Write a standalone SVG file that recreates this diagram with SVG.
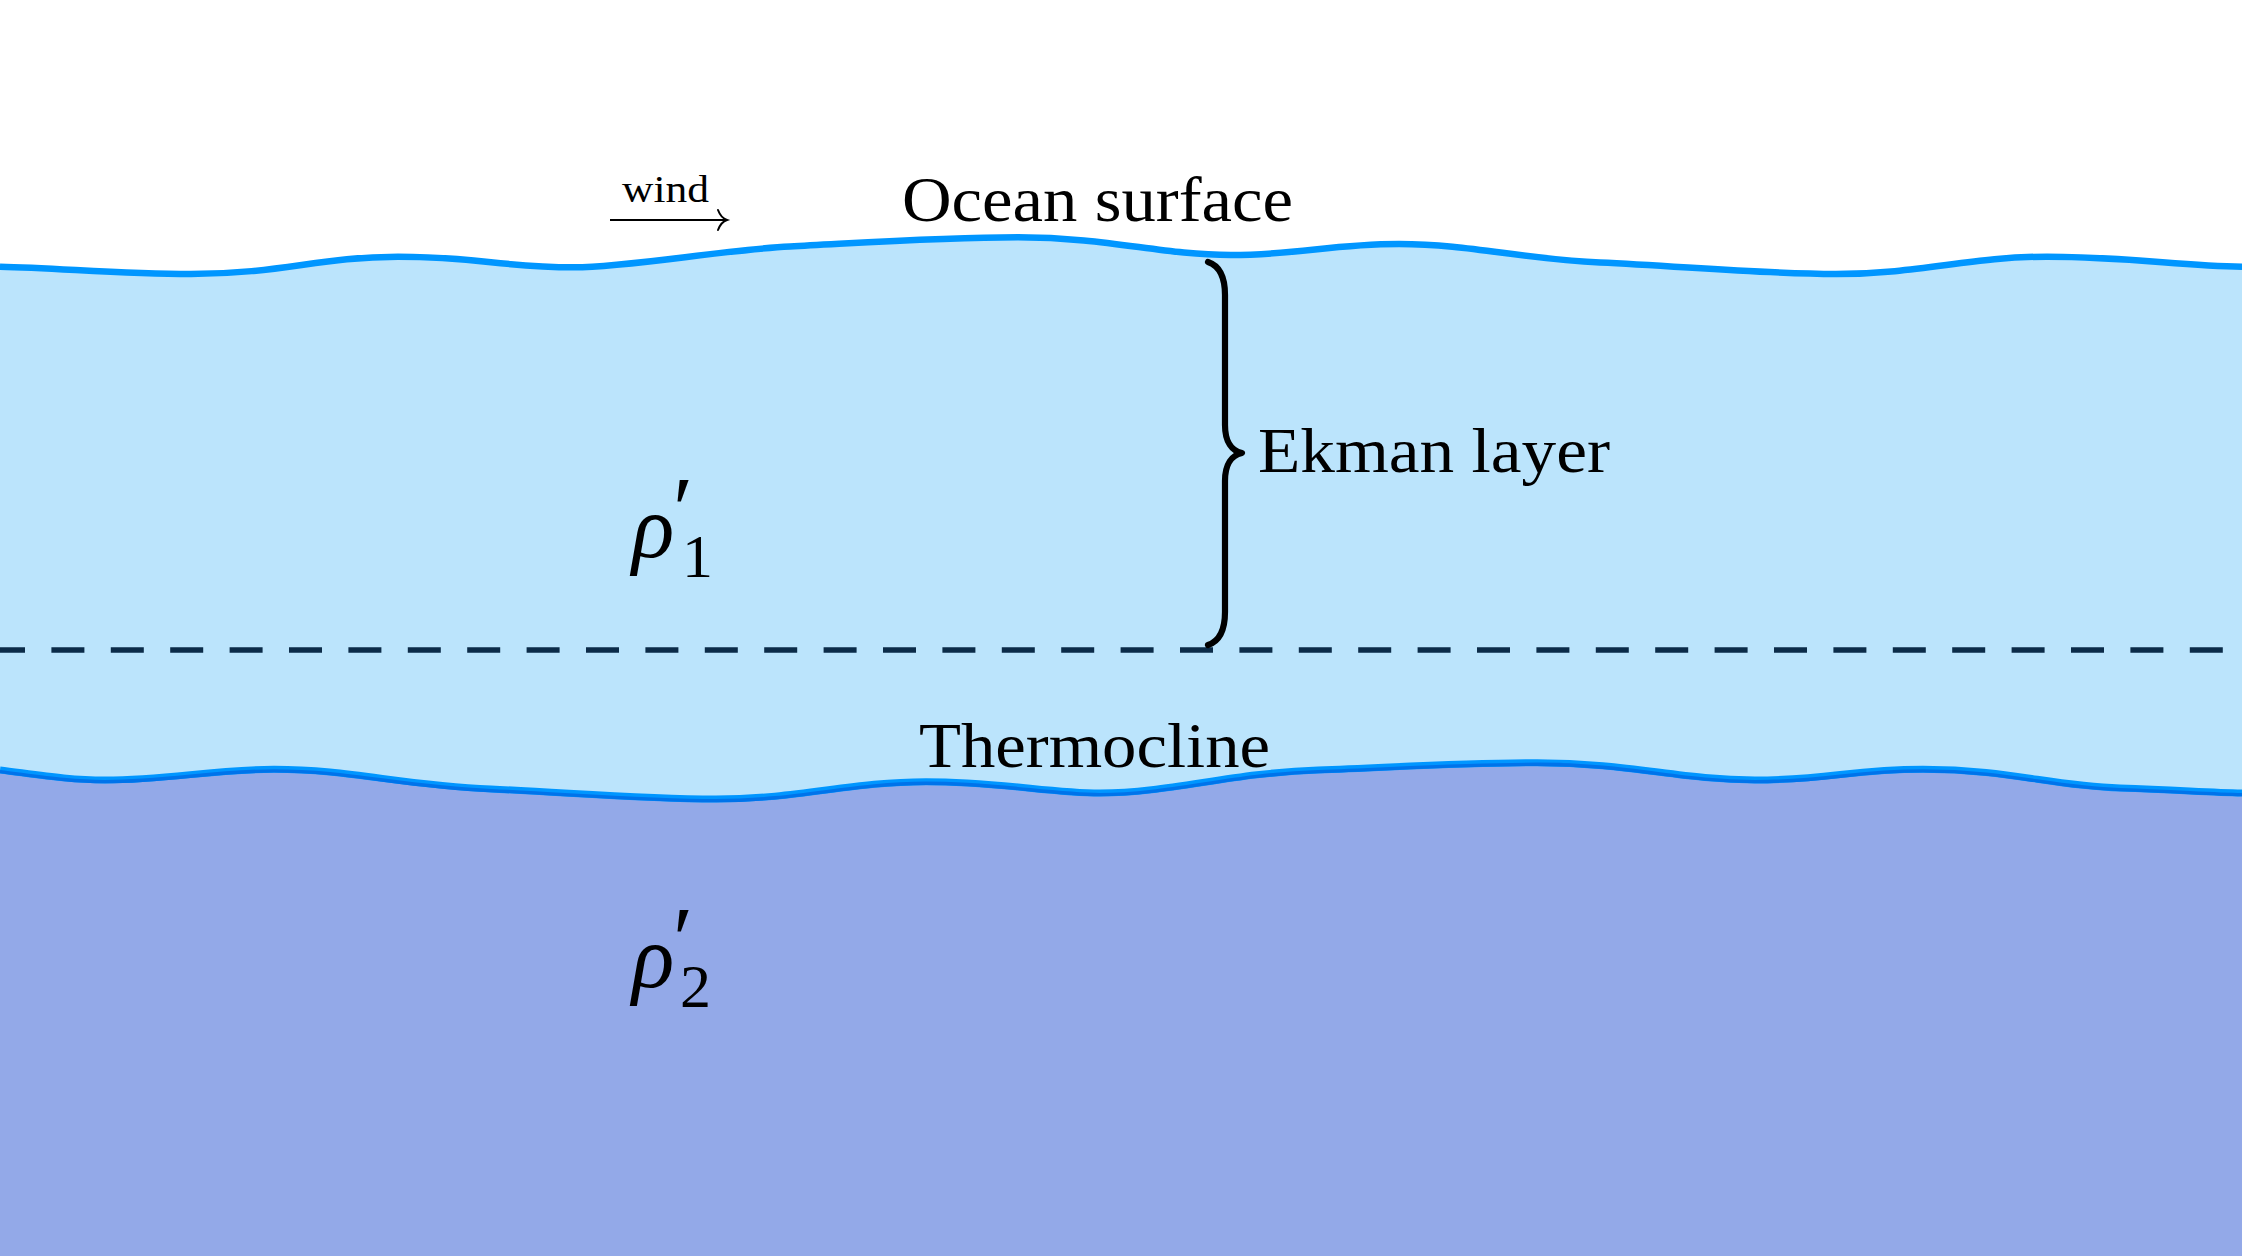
<svg xmlns="http://www.w3.org/2000/svg" width="2242" height="1256" viewBox="0 0 2242 1256">
  <style>
    .lbl { font-family: "Liberation Serif", "DejaVu Serif", serif; fill: #000; }
    .math { font-family: "Liberation Serif", "DejaVu Serif", serif; font-style: italic; fill: #000; }
    .up { font-style: normal; }
    .wave { fill: none; stroke: #0096FF; stroke-width: 6.5; stroke-linejoin: round; }
  </style>
  <defs>
    <path id="surf" d="M0,266.7 C60,268 120,274 191,274 C280,274 320,256.7 398,256.7 C480,256.7 500,267.3 574,267.3 C630,267.3 720,250 790,246.5 C860,243 940,237.3 1018,237.3 C1110,237.3 1160,255 1231,255 C1300,255 1330,244 1399,244 C1470,244 1520,259 1600,262.5 C1680,266 1760,274 1836,274 C1920,274 1970,256.7 2047,256.7 C2130,256.7 2180,266 2242,266.7"/>
    <path id="thermo" d="M0,770 C40,775 70,780 105,780 C170,780 210,769.3 274,769.3 C350,769.3 400,785 491,789 C570,792.5 640,799 716,799 C800,799 850,781.7 926,781.7 C1000,781.7 1050,793 1100,793 C1170,793 1230,773 1318,770 C1400,767 1460,762.7 1537,762.7 C1630,762.7 1680,780 1755,780 C1830,780 1850,769.3 1923,769.3 C2010,769.3 2050,786 2120,788 C2180,790 2210,792.5 2242,793"/>
  </defs>
  <rect x="0" y="0" width="2242" height="1256" fill="#FFFFFF"/>

  <g id="upper-layer">
    <path d="M0,266.7 C60,268 120,274 191,274 C280,274 320,256.7 398,256.7 C480,256.7 500,267.3 574,267.3 C630,267.3 720,250 790,246.5 C860,243 940,237.3 1018,237.3 C1110,237.3 1160,255 1231,255 C1300,255 1330,244 1399,244 C1470,244 1520,259 1600,262.5 C1680,266 1760,274 1836,274 C1920,274 1970,256.7 2047,256.7 C2130,256.7 2180,266 2242,266.7 L2242,1256 L0,1256 Z" fill="#BBE4FC"/>
  </g>

  <g id="ekman-boundary">
    <line x1="0" y1="650" x2="2242" y2="650" stroke="#0B2B48" stroke-width="5.3" stroke-dasharray="33 26.4" stroke-dashoffset="8"/>
  </g>

  <g id="lower-layer">
    <path d="M0,770 C40,775 70,780 105,780 C170,780 210,769.3 274,769.3 C350,769.3 400,785 491,789 C570,792.5 640,799 716,799 C800,799 850,781.7 926,781.7 C1000,781.7 1050,793 1100,793 C1170,793 1230,773 1318,770 C1400,767 1460,762.7 1537,762.7 C1630,762.7 1680,780 1755,780 C1830,780 1850,769.3 1923,769.3 C2010,769.3 2050,786 2120,788 C2180,790 2210,792.5 2242,793 L2242,1256 L0,1256 Z" fill="#93A9E8"/>
  </g>

  <g id="thermocline-line">
    <use href="#thermo" class="wave" style="stroke-width:7"/>
    <use href="#thermo" transform="translate(0,1.6)" fill="none" stroke="#0073EA" stroke-width="3.4"/>
  </g>

  <g id="ocean-surface-line">
    <use href="#surf" class="wave"/>
  </g>

  <g id="ekman-brace">
    <path d="M1208,262 C1220,266 1225,278 1225,295 L1225,425 C1225,442 1232,451 1242,453 C1232,455 1225,464 1225,481 L1225,612 C1225,630 1220,641 1208,645" fill="none" stroke="#000" stroke-width="6.2" stroke-linecap="round" stroke-linejoin="round"/>
  </g>

  <g id="wind">
    <text class="lbl" x="622" y="202" font-size="38" textLength="87" lengthAdjust="spacingAndGlyphs">wind</text>
    <line x1="610" y1="220" x2="726" y2="220" stroke="#000" stroke-width="2"/>
    <path d="M718,210 Q721,218 727,220 Q721,222 718,230" fill="none" stroke="#000" stroke-width="2" stroke-linecap="round"/>
  </g>

  <g id="labels">
    <text class="lbl" x="902" y="221" font-size="64" textLength="391" lengthAdjust="spacingAndGlyphs">Ocean surface</text>
    <text class="lbl" x="1258" y="472" font-size="63" textLength="352" lengthAdjust="spacingAndGlyphs">Ekman layer</text>
    <text class="lbl" x="919" y="767" font-size="63" textLength="351" lengthAdjust="spacingAndGlyphs">Thermocline</text>
  </g>

  <g id="rho1">
    <text class="math" x="632" y="557" font-size="88">ρ<tspan class="up" x="673" y="540" font-size="92">′</tspan><tspan class="up" x="682" y="577" font-size="62">1</tspan></text>
  </g>

  <g id="rho2">
    <text class="math" x="632" y="987" font-size="88">ρ<tspan class="up" x="673" y="970" font-size="92">′</tspan><tspan class="up" x="680" y="1007" font-size="62">2</tspan></text>
  </g>
</svg>
